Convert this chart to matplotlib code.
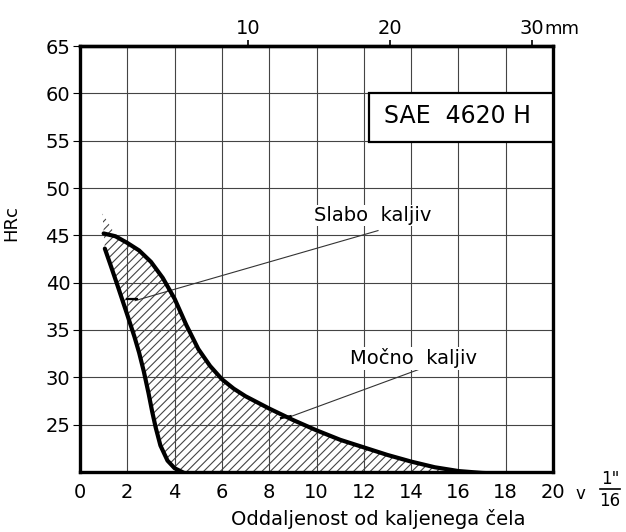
import matplotlib
matplotlib.use("Agg")
import matplotlib.pyplot as plt

plt.rcParams['font.family'] = ['DejaVu Sans']
plt.rcParams['hatch.linewidth'] = 0.8

# Jominy distance in 1/16 inch, hardness HRc
upper_x = [1.0, 1.5, 2.0, 2.5, 3.0, 3.5, 4.0, 4.5, 5.0, 5.5, 6.0, 6.5, 7.0, 8.0, 9.0,
           10.0, 11.0, 12.0, 13.0, 14.0, 15.0, 16.0, 17.0, 18.0, 19.0, 19.8]
upper_y = [45.2, 44.9, 44.2, 43.4, 42.2, 40.5, 38.3, 35.5, 33.0, 31.2, 29.8, 28.8, 28.0, 26.7, 25.5,
           24.4, 23.4, 22.6, 21.8, 21.1, 20.5, 20.1, 19.9, 19.8, 19.8, 19.8]

lower_x = [1.05, 1.3, 1.6, 2.0, 2.3, 2.5, 2.7, 2.9, 3.05, 3.2, 3.4, 3.7, 4.0, 4.4]
lower_y = [43.6, 41.8, 39.6, 36.6, 34.3, 32.6, 30.6, 28.3, 26.4, 24.7, 22.8, 21.2, 20.4, 19.9]

# small hatched tip above the upper curve at the quenched end
tip_x = [0.95, 1.2, 1.5]
tip_y = [47.3, 46.3, 45.0]
hatch_end = 17.0

x_ticks = list(range(0, 21, 2))
y_ticks = [25, 30, 35, 40, 45, 50, 55, 60, 65]
mm_ticks = [10, 20, 30]


def mm_to_x(mm):
    return 1.1 + 0.6 * mm


def x_to_mm(x):
    return (x - 1.1) / 0.6


fig = plt.figure(figsize=(6.26, 5.32), dpi=100)
ax = fig.add_axes([0.1278, 0.1128, 0.7556, 0.8007])
ax.set_xlim(0, 20)
ax.set_ylim(20, 65)

# grid
for gx in range(2, 20, 2):
    ax.axvline(gx, color='#444444', lw=0.8, zorder=1)
for gy in range(25, 65, 5):
    ax.axhline(gy, color='#444444', lw=0.8, zorder=1)

# hatched band between the two curves
poly_x = tip_x + [x for x in upper_x if 2.0 <= x <= hatch_end] + [hatch_end] + lower_x[::-1]
poly_y = tip_y + [y for x, y in zip(upper_x, upper_y) if 2.0 <= x <= hatch_end] + [20.0] + lower_y[::-1]
ax.fill(poly_x, poly_y, facecolor='none', edgecolor='#444444', hatch='////', lw=0, zorder=2)

ax.plot(upper_x, upper_y, color='black', lw=3, solid_capstyle='round', zorder=4)
ax.plot(lower_x, lower_y, color='black', lw=3, solid_capstyle='round', zorder=4)

# labels with leader lines
ax.text(12.36, 47.1, 'Slabo  kaljiv', fontsize=14, ha='center', va='center', zorder=5,
        bbox=dict(facecolor='white', edgecolor='none', pad=1))
ax.plot([12.6, 2.33], [45.5, 38.1], color='#333333', lw=0.8, zorder=3)
ax.plot([2.0, 2.4], [38.3, 38.3], color='black', lw=1.6, zorder=4)
ax.text(14.1, 32.0, 'Močno  kaljiv', fontsize=14, ha='center', va='center', zorder=5,
        bbox=dict(facecolor='white', edgecolor='none', pad=1))
ax.plot([14.4, 8.74], [30.9, 25.7], color='#333333', lw=0.8, zorder=3)
ax.plot([8.5, 8.9], [25.7, 25.9], color='black', lw=1.6, zorder=4)

# steel grade box
ax.add_patch(plt.Rectangle((12.2, 54.9), 7.8, 5.1, facecolor='white', edgecolor='black',
                           lw=1.6, zorder=5))
ax.text(15.95, 57.6, 'SAE  4620 H', fontsize=17, ha='center', va='center', zorder=6)

# axes styling
for s in ax.spines.values():
    s.set_linewidth(2.4)
ax.set_xticks(x_ticks)
ax.set_yticks(y_ticks)
ax.tick_params(axis='x', length=0, labelsize=14, pad=8)
ax.tick_params(axis='y', length=5, width=0.8, labelsize=14, pad=2)
ax.set_ylabel('HRc', fontsize=13)
ax.yaxis.set_label_coords(-0.127, 0.585)

top = ax.secondary_xaxis('top', functions=(x_to_mm, mm_to_x))
top.set_xticks(mm_ticks)
top.tick_params(length=4, width=1.2, labelsize=14, pad=2)
top.spines['top'].set_linewidth(2.4)
ax.annotate('mm', xy=(mm_to_x(30), 65), xytext=(9, 6), textcoords='offset points',
            fontsize=13, ha='left', va='bottom', annotation_clip=False)

# unit after the last tick
fig.text(580 / 626, 1 - 494 / 532, 'v', fontsize=12, ha='center', va='center')
fig.text(610 / 626, 1 - 479 / 532, '1"', fontsize=12, ha='center', va='center')
fig.text(610 / 626, 1 - 501 / 532, '16', fontsize=12, ha='center', va='center')
fig.add_artist(plt.Line2D([600 / 626, 620 / 626], [1 - 489 / 532, 1 - 489 / 532],
                          color='black', lw=1.2))

fig.text(378 / 626, 1 - 519 / 532, 'Oddaljenost od kaljenega čela', fontsize=14,
         ha='center', va='center')

plt.savefig('out.png', dpi=100)
